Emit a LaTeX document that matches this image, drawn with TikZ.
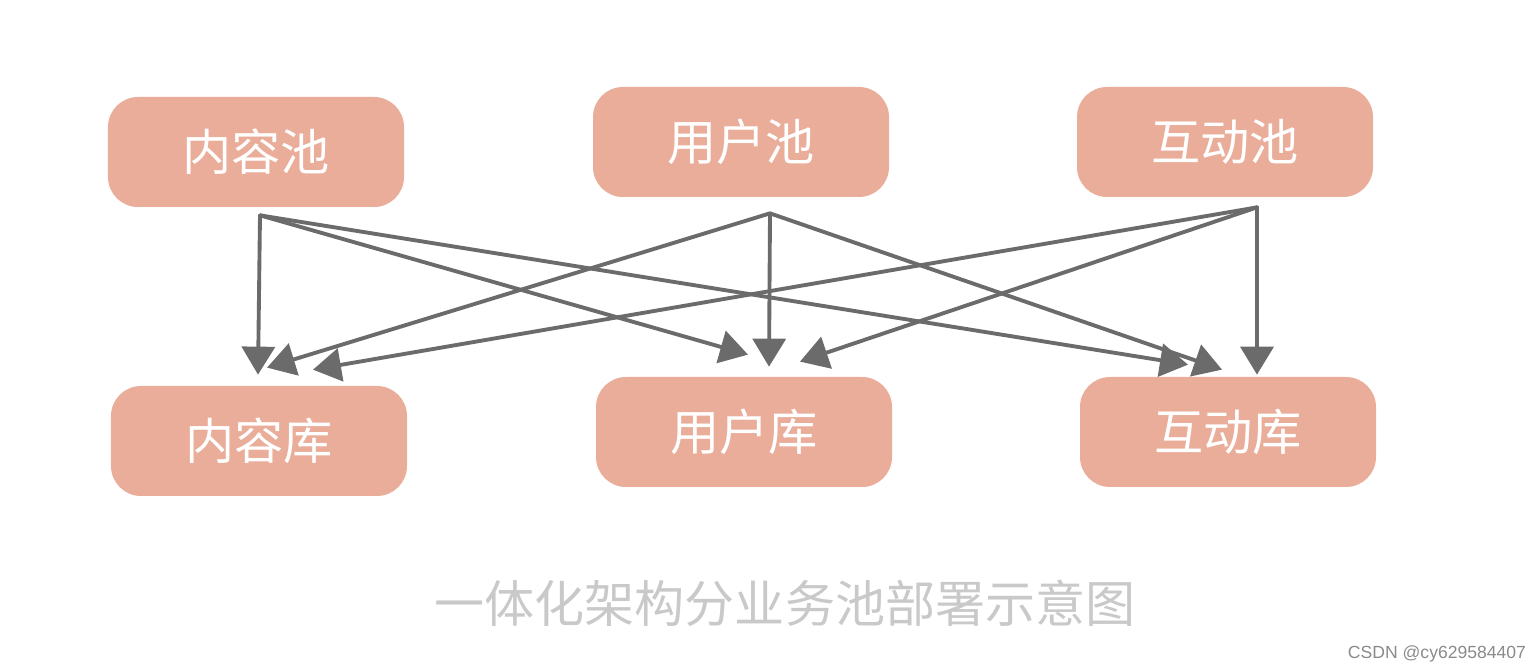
\documentclass[tikz,border=0pt]{standalone}
\usepackage{fontspec}
\usepackage{xcolor}
\usepackage{tikz}
\usetikzlibrary{positioning,arrows.meta,calc}
\newfontfamily\cjk{Noto Sans CJK SC}
\newfontfamily\markfont{Liberation Sans}
\definecolor{salmon300}{HTML}{E9AD9A}
\definecolor{ink600}{HTML}{6B6B6B}
\definecolor{ash300}{HTML}{C9C9C9}
\definecolor{ash500}{HTML}{8A8A8A}
\tikzset{
  every node/.style={font=\cjk},
  store/.style={
    rectangle, rounded corners=6mm,
    fill=salmon300, draw=none,
    minimum width=59.2mm, minimum height=22mm,
    inner sep=0pt, align=center,
    text=white, font=\cjk\fontsize{28}{32}\selectfont
  },
  flow/.style={
    -{Triangle[length=5.6mm,width=6.6mm]},
    line width=2.2pt, draw=ink600, line cap=round
  },
  caption/.style={
    font=\cjk\fontsize{28.5}{32}\selectfont, text=ash300
  },
}
\begin{document}
\begin{tikzpicture}[x=0.2mm,y=0.2mm]
  \useasboundingbox (0,0) rectangle (1536,672);
  \node[store] (cpool) at (256,520) {内容池};
  \node[store] (upool) at (741,530) {用户池};
  \node[store] (ipool) at (1225,530) {互动池};
  \node[store] (cdb) at (259,231) {内容库};
  \node[store] (udb) at (744,240) {用户库};
  \node[store] (idb) at (1228,240) {互动库};
  \coordinate (cout) at ($(cpool.south)+(4,-8)$);
  \coordinate (uout) at ($(upool.south)+(29,-16)$);
  \coordinate (iout) at ($(ipool.south)+(32,-10)$);
  \draw[flow] (cout) -- ($(cdb.north)+(-1,11)$);
  \draw[flow] (cout) -- ($(udb.north)+(4,22)$);
  \draw[flow] (cout) -- ($(idb.north)+(-40,12)$);
  \draw[flow] (uout) -- ($(cdb.north)+(8,18)$);
  \draw[flow] (uout) -- ($(udb.north)+(25,10)$);
  \draw[flow] (uout) -- ($(idb.north)+(-6,7)$);
  \draw[flow] (iout) -- ($(cdb.north)+(54,16)$);
  \draw[flow] (iout) -- ($(udb.north)+(56,15)$);
  \draw[flow] (iout) -- ($(idb.north)+(29,2)$);
  \node[caption] (title) at (785,69) {一体化架构分业务池部署示意图};
  \node[font=\markfont\fontsize{10}{12}\selectfont, text=ash500] (mark) at (1437,18) {CSDN @cy629584407};
\end{tikzpicture}
\end{document}
